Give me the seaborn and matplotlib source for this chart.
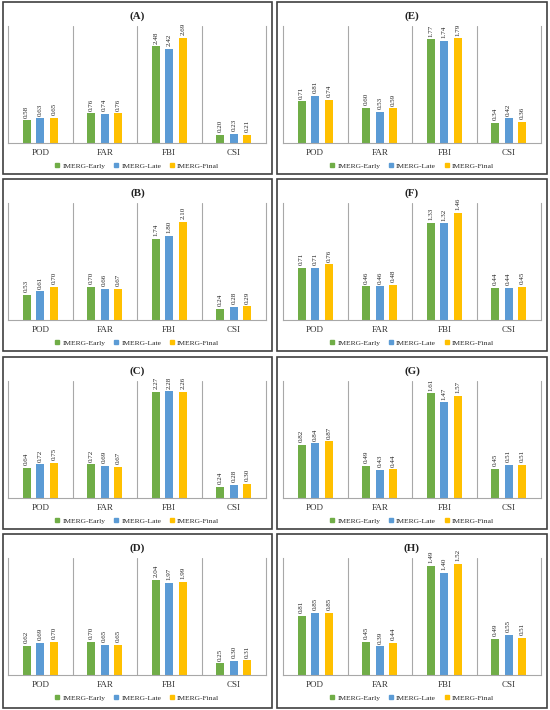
import matplotlib
matplotlib.use("Agg")
import matplotlib.pyplot as plt
import numpy as np
import pandas as pd
import seaborn as sns
from matplotlib.patches import Rectangle
from matplotlib.lines import Line2D

# ---------------- data ----------------
metrics = ["POD", "FAR", "FBI", "CSI"]
products = ["IMERG-Early", "IMERG-Late", "IMERG-Final"]
panel_names = ["(A)", "(B)", "(C)", "(D)", "(E)", "(F)", "(G)", "(H)"]

a_early = [0.58, 0.76, 2.48, 0.20]
a_late = [0.63, 0.74, 2.42, 0.23]
a_final = [0.65, 0.76, 2.69, 0.21]

b_early = [0.53, 0.70, 1.74, 0.24]
b_late = [0.61, 0.66, 1.80, 0.28]
b_final = [0.70, 0.67, 2.10, 0.29]

c_early = [0.64, 0.72, 2.27, 0.24]
c_late = [0.72, 0.69, 2.28, 0.28]
c_final = [0.75, 0.67, 2.26, 0.30]

d_early = [0.62, 0.70, 2.04, 0.25]
d_late = [0.69, 0.65, 1.97, 0.30]
d_final = [0.70, 0.65, 1.99, 0.31]

e_early = [0.71, 0.60, 1.77, 0.34]
e_late = [0.81, 0.53, 1.74, 0.42]
e_final = [0.74, 0.59, 1.79, 0.36]

f_early = [0.71, 0.46, 1.33, 0.44]
f_late = [0.71, 0.46, 1.32, 0.44]
f_final = [0.76, 0.48, 1.46, 0.45]

g_early = [0.82, 0.49, 1.61, 0.45]
g_late = [0.84, 0.43, 1.47, 0.51]
g_final = [0.87, 0.44, 1.57, 0.51]

h_early = [0.81, 0.45, 1.49, 0.49]
h_late = [0.85, 0.39, 1.40, 0.55]
h_final = [0.85, 0.44, 1.52, 0.51]

panels = [
    (a_early, a_late, a_final),
    (b_early, b_late, b_final),
    (c_early, c_late, c_final),
    (d_early, d_late, d_final),
    (e_early, e_late, e_final),
    (f_early, f_late, f_final),
    (g_early, g_late, g_final),
    (h_early, h_late, h_final),
]

# axis maxima per panel
y_max = [3.0, 2.5, 2.5, 2.5, 2.0, 1.6, 1.8, 1.6]

# ---------------- style ----------------
colors = ["#70AD47", "#5B9BD5", "#FFC000"]
sns.set_theme(style="white")
plt.rcParams["font.family"] = ["Liberation Serif", "DejaVu Serif"]

W, H = 550, 710
fig = plt.figure(figsize=(W / 100, H / 100), dpi=100)

row_tops = [2, 179, 357, 534]
col_box = [(3, 272), (277, 547)]
col_ax = [(8, 266), (283, 541)]
grid_col = "#A8A8A8"

for i, (early, late, final) in enumerate(panels):
    col = i // 4
    row = i % 4
    top = row_tops[row]
    bx0, bx1 = col_box[col]
    ax0, ax1 = col_ax[col]
    box_h = 172 if row < 3 else 174

    # panel frame
    fig.patches.append(Rectangle((bx0 / W, 1 - (top + box_h) / H),
                                 (bx1 - bx0) / W, box_h / H,
                                 transform=fig.transFigure, fill=False,
                                 edgecolor="#404040", linewidth=1.2))

    ax = fig.add_axes([ax0 / W, 1 - (top + 141) / H,
                       (ax1 - ax0) / W, 117 / H])

    df = pd.DataFrame({
        "metric": metrics * 3,
        "product": sum([[p] * 4 for p in products], []),
        "value": early + late + final,
    })
    sns.barplot(data=df, x="metric", y="value", hue="product",
                order=metrics, hue_order=products, palette=colors,
                width=0.63, gap=0.43, legend=False, ax=ax,
                saturation=1, edgecolor="none")

    for cont in ax.containers:
        ax.bar_label(cont, fmt="%.2f", rotation=90, padding=2,
                     fontsize=5.0, color="#222222")

    ax.set_xlim(-0.5, 3.5)
    ax.set_ylim(0, y_max[i])
    ax.set_xlabel("")
    ax.set_ylabel("")
    ax.set_yticks([])
    for xv in [0.5, 1.5, 2.5]:
        ax.axvline(xv, color=grid_col, linewidth=0.8, zorder=0)
    for s in ["left", "right", "bottom"]:
        ax.spines[s].set_visible(True)
        ax.spines[s].set_color(grid_col)
        ax.spines[s].set_linewidth(0.8)
    ax.spines["top"].set_visible(False)
    ax.tick_params(axis="x", length=0, pad=4, labelsize=6.5,
                   colors="#333333")
    ax.patch.set_alpha(0)

    handles = [Line2D([0], [0], marker="s", linestyle="none",
                      markersize=3.2, markerfacecolor=c,
                      markeredgecolor=c) for c in colors]
    ax.legend(handles, products, loc="center", bbox_to_anchor=(0.5, -0.195),
              ncol=3, frameon=False, fontsize=5.4, handlelength=0.6,
              handletextpad=0.4, columnspacing=1.1, borderaxespad=0)

    fig.text((bx0 + bx1) / 2 / W, 1 - (top + 14) / H, panel_names[i],
             ha="center", va="center", fontsize=7.8, fontweight="bold",
             color="#222222")

fig.savefig("out.png", dpi=100)
